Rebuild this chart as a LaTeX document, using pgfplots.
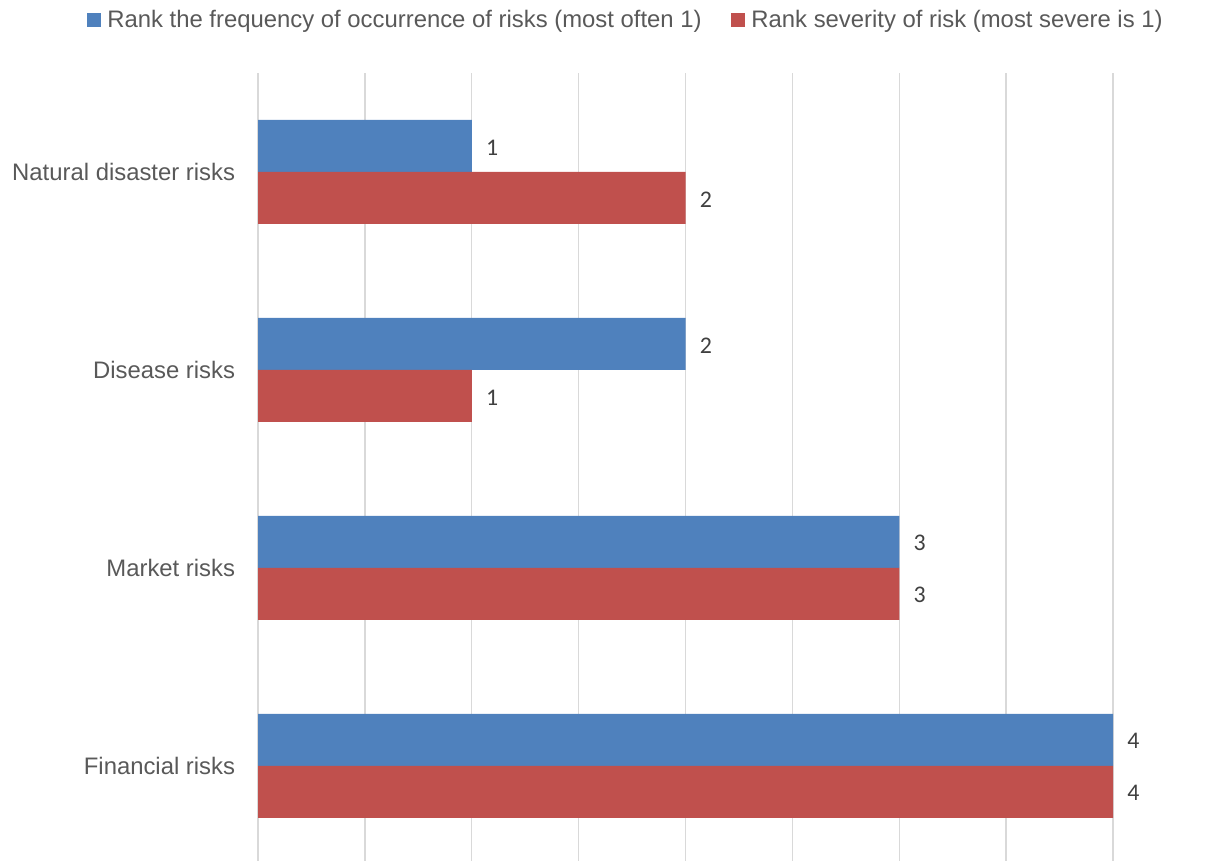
\documentclass[border=0pt]{standalone}
\usepackage{fontspec}
\setmainfont{Liberation Sans}
\newfontfamily\calibri{Carlito}
\usepackage{pgfplots}
\pgfplotsset{compat=1.18}
\definecolor{barblue}{HTML}{4F81BD}
\definecolor{barred}{HTML}{C0504D}
\definecolor{gridgray}{HTML}{D9D9D9}
\definecolor{labelgray}{HTML}{595959}
\definecolor{valgray}{HTML}{404040}
\newcommand\chartfont{\fontsize{17.9}{21}\selectfont}

\begin{document}
\begin{tikzpicture}
\useasboundingbox (0,0) rectangle (914.25pt,645pt);
\begin{axis}[
  at={(193.5pt,590.25pt)}, anchor=north west,
  scale only axis, width=641.25pt, height=594pt,
  xbar, bar width=39pt,
  xmin=0, xmax=4, ymin=-0.5, ymax=3.5,
  axis line style={draw=none},
  xtick={0,0.5,...,4}, xticklabels={},
  xmajorgrids, grid style={gridgray, line width=1pt},
  ytick={0,1,2,3},
  yticklabels={Financial risks, Market risks, Disease risks, Natural disaster risks},
  major tick length=0pt,
  tick style={draw=none},
  yticklabel style={font=\chartfont, text=labelgray, inner xsep=0pt, xshift=-17pt},
  /pgf/number format/assume math mode=true,
  nodes near coords,
  every node near coord/.append style={font=\calibri\chartfont, text=valgray, anchor=west, inner xsep=0pt, xshift=10.5pt, yshift=-1pt},
  legend columns=2,
  legend style={at={(axis description cs:0.4307,1.067)}, anchor=center,
    draw=none, fill=none, font=\chartfont, text=labelgray,
    /tikz/every even column/.append style={column sep=20.25pt},
    /tikz/every odd column/.append style={column sep=2.6pt}},
  legend image code/.code={\fill[#1] (0pt,-5.2pt) rectangle (10.5pt,5.2pt);},
]
\addplot[fill=barblue, draw=none, bar shift=19.5pt] coordinates {(1,3) (2,2) (3,1) (4,0)};
\addlegendentry{Rank the frequency of occurrence of risks (most often 1)}
\addplot[fill=barred, draw=none, bar shift=-19.5pt] coordinates {(2,3) (1,2) (3,1) (4,0)};
\addlegendentry{Rank severity of risk (most severe is 1)}
\end{axis}
\end{tikzpicture}
\end{document}
